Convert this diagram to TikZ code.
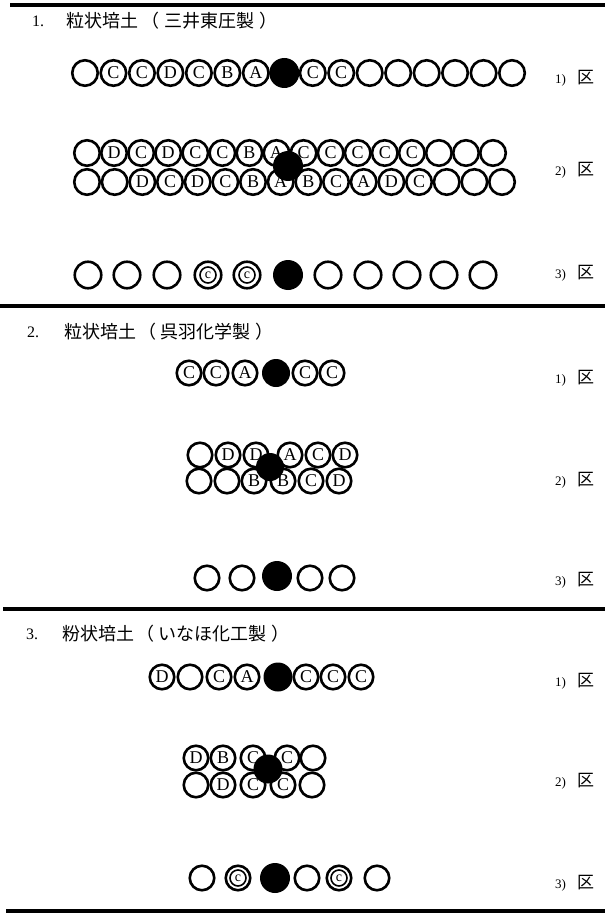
\documentclass[tikz,border=0pt]{standalone}
\usepackage{fontspec}
\setmainfont{Liberation Serif}
\newfontfamily\cjk{Noto Sans CJK JP}
\begin{document}
\begin{tikzpicture}[x=1pt,y=-1pt,
  pel/.style={circle,draw,fill=white,line width=2.6pt,minimum size=24.5pt,inner sep=0pt,font=\fontsize{18}{18}\selectfont},
  bigpel/.style={pel,minimum size=25.5pt},
  seed/.style={circle,fill=black,inner sep=0pt,minimum size=#1},
  seed/.default=29pt,
  cmark/.style={circle,draw,line width=1.6pt,minimum size=16pt,inner sep=0pt,font=\fontsize{14}{14}\selectfont},
  head/.style={anchor=west,inner sep=0pt,font=\cjk\fontsize{18}{18}\selectfont},
  num/.style={anchor=west,inner sep=0pt,font=\fontsize{16}{16}\selectfont},
  ku/.style={anchor=west,inner sep=0pt},
  rule/.style={line width=3.8pt}]
\useasboundingbox (0,0) rectangle (605,915);
\newcommand{\kulab}[1]{{\fontsize{13}{13}\selectfont #1)}\hspace{11pt}{\cjk\fontsize{17}{17}\selectfont 区}}

% rules
\coordinate (r1a) at (10,5);   \coordinate (r1b) at (605,5);
\coordinate (r2a) at (0,306);  \coordinate (r2b) at (605,306);
\coordinate (r3a) at (3,609);  \coordinate (r3b) at (605,609);
\coordinate (r4a) at (6,911);  \coordinate (r4b) at (605,911);
\draw[rule] (r1a) -- (r1b);
\draw[rule] (r2a) -- (r2b);
\draw[rule] (r3a) -- (r3b);
\draw[rule] (r4a) -- (r4b);

% headings
\node[num]  (n1) at (32,21) {1.};
\node[head] (h1) at (66,21) {粒状培土\hspace{3pt}（\hspace{5pt}三井東圧製\hspace{5pt}）};
\node[num]  (n2) at (27,332) {2.};
\node[head] (h2) at (64,332) {粒状培土\hspace{2pt}（\hspace{4pt}呉羽化学製\hspace{5pt}）};
\node[num]  (n3) at (26,634) {3.};
\node[head] (h3) at (62,634) {粉状培土\hspace{2pt}（\hspace{4pt}いなほ化工製\hspace{5pt}）};

% row labels
\node[ku] (k11) at (555,78)  {\kulab{1}};
\node[ku] (k12) at (555,170) {\kulab{2}};
\node[ku] (k13) at (555,273) {\kulab{3}};
\node[ku] (k21) at (555,378) {\kulab{1}};
\node[ku] (k22) at (555,480) {\kulab{2}};
\node[ku] (k23) at (555,580) {\kulab{3}};
\node[ku] (k31) at (555,681) {\kulab{1}};
\node[ku] (k32) at (555,781) {\kulab{2}};
\node[ku] (k33) at (555,883) {\kulab{3}};

% ---------- Section 1 ----------
% 1) row
\foreach \i/\l in {1/{},2/C,3/C,4/D,5/C,6/B,7/A,9/C,10/C,11/{},12/{},13/{},14/{},15/{},16/{}}
  \node[bigpel] (a\i) at ({85+28.47*(\i-1)},73) {\l};
\node[seed=30pt] (a8) at ({85+28.47*7},73) {};

% 2) rows
\foreach \i/\l in {1/{},2/D,3/C,4/D,5/C,6/C,7/B,8/A,9/C,10/C,11/C,12/C,13/C,14/{},15/{},16/{}}
  \node[bigpel] (bt\i) at ({87+27.07*(\i-1)},153) {\l};
\foreach \i/\l in {1/{},2/{},3/D,4/C,5/D,6/C,7/B,8/A,9/B,10/C,11/A,12/D,13/C,14/{},15/{},16/{}}
  \node[bigpel] (bb\i) at ({87+27.67*(\i-1)},182) {\l};
\node[seed=30pt] (bs) at (288,166) {};

% 3) row
\foreach \n/\x in {1/88,2/127,3/167,4/208,5/247,7/328,8/368,9/407,10/444,11/483}
  \node[bigpel,minimum size=26.5pt] (c\n) at (\x,275) {};
\node[cmark] (cc4) at (c4) {c};
\node[cmark] (cc5) at (c5) {c};
\node[seed=30pt] (c6) at (288,275) {};

% ---------- Section 2 ----------
\foreach \n/\x/\l in {1/189/C,2/216/C,3/245/A,5/305/C,6/332/C}
  \node[pel] (d\n) at (\x,373) {\l};
\node[seed=28pt] (d4) at (276,373) {};

\foreach \n/\x/\l in {1/200/{},2/228/D,3/256/D,4/290/A,5/318/C,6/345/D}
  \node[pel] (et\n) at (\x,455) {\l};
\foreach \n/\x/\l in {1/199/{},2/227/{},3/254/B,4/283/B,5/311/C,6/339/D}
  \node[pel] (eb\n) at (\x,481) {\l};
\node[seed=28pt] (es) at (270,467) {};

\foreach \n/\x in {1/207,2/242,4/310,5/342}
  \node[pel] (f\n) at (\x,578) {};
\node[seed=30pt] (f3) at (277,576) {};

% ---------- Section 3 ----------
\foreach \n/\x/\l in {1/162/D,2/190/{},3/219/C,4/247/A,6/306/C,7/333/C,8/361/C}
  \node[pel] (g\n) at (\x,677) {\l};
\node[seed=29pt] (g5) at (278,677) {};

\foreach \n/\x/\l in {1/196/D,2/223/B,3/253/C,4/287/C,5/313/{}}
  \node[pel] (ht\n) at (\x,758) {\l};
\foreach \n/\x/\l in {1/196/{},2/223/D,3/253/C,4/283/C,5/312/{}}
  \node[pel] (hb\n) at (\x,785) {\l};
\node[seed=29pt] (hs) at (268,769) {};

\foreach \n/\x in {1/202,2/238,4/307,5/339,6/377}
  \node[pel] (i\n) at (\x,878) {};
\node[cmark] (ci2) at (i2) {c};
\node[cmark] (ci5) at (i5) {c};
\node[seed=30pt] (i3) at (275,878) {};
\end{tikzpicture}
\end{document}
